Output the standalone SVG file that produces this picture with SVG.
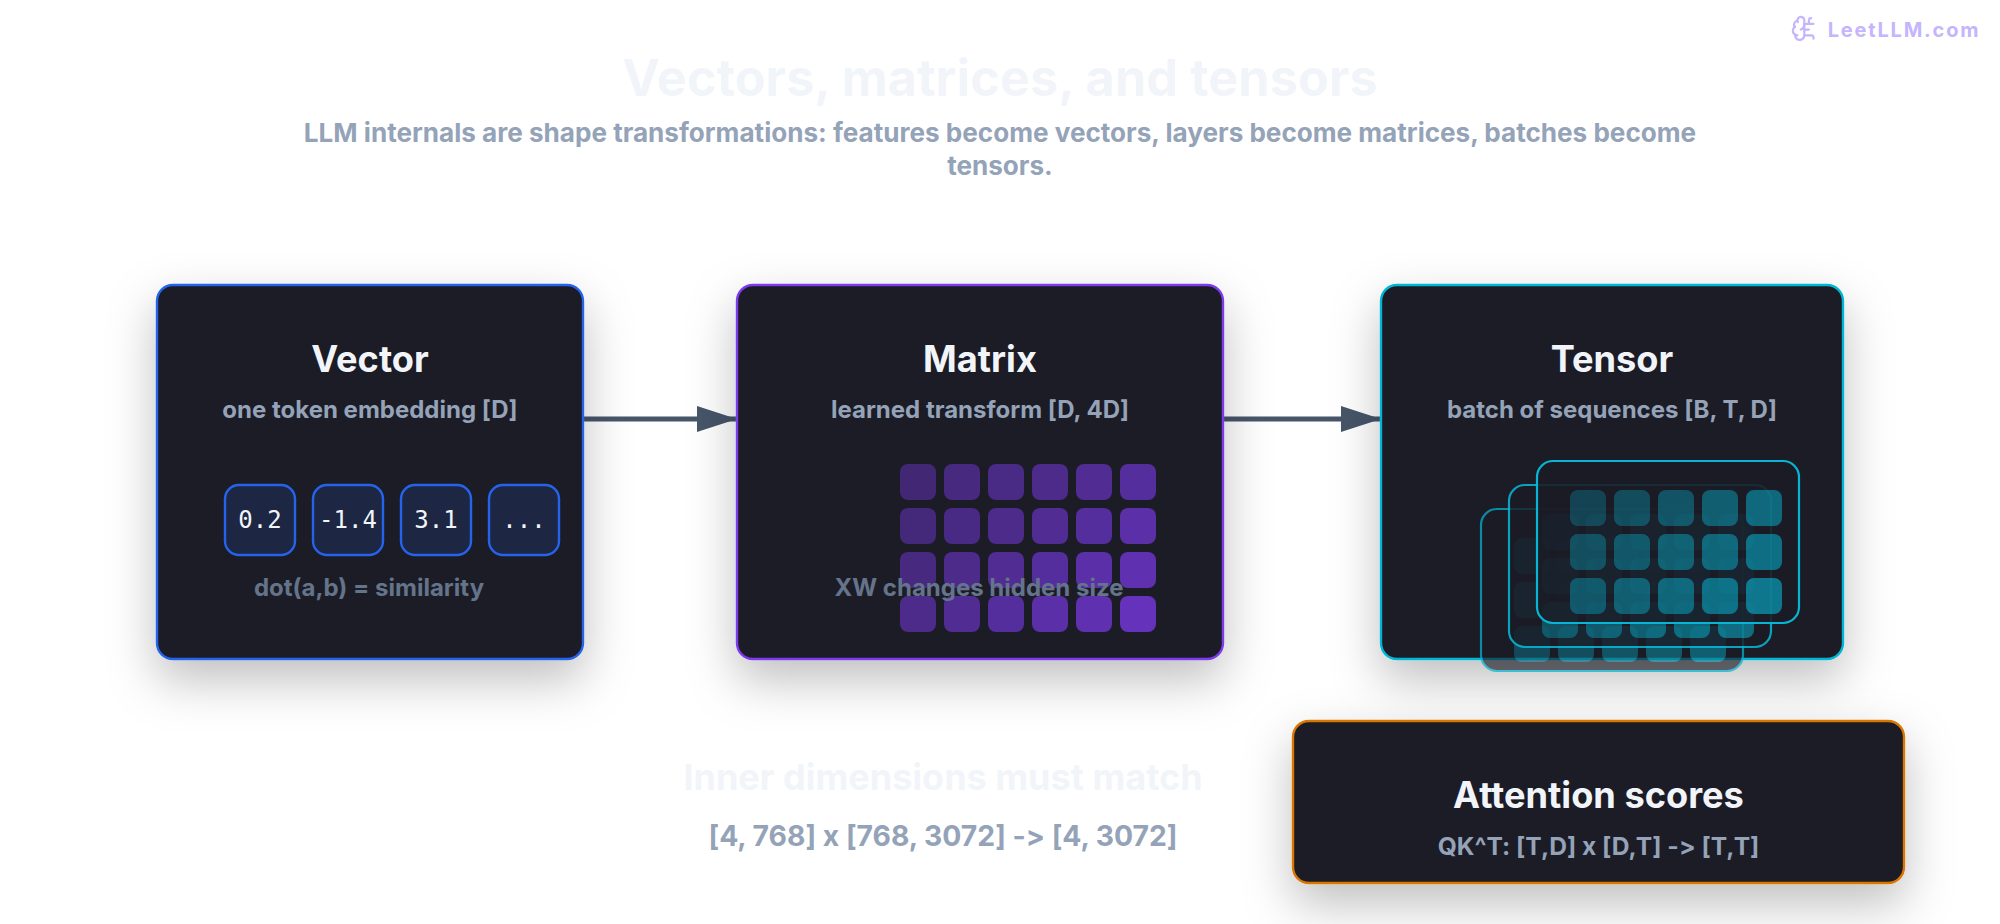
<svg xmlns="http://www.w3.org/2000/svg" width="2000" height="924" viewBox="0 0 2000 924">
<defs>
<filter id="shadow" x="-30%" y="-30%" width="160%" height="190%"><feDropShadow dx="0" dy="20" stdDeviation="24" flood-color="#000" flood-opacity="0.25"/></filter>
<marker id="arrow" markerUnits="userSpaceOnUse" markerWidth="40" markerHeight="26" refX="40" refY="13" orient="auto"><path d="M0 0L40 13L0 26Z" fill="#475569"/></marker>
</defs>
<style>
text{font-family:Inter,"Noto Sans","Liberation Sans",sans-serif;text-anchor:middle;font-feature-settings:"calt" 0,"liga" 0}
.card{fill:#1a1b26;stroke-width:2.4;filter:url(#shadow)}
.h{font-size:36.2px;font-weight:700;fill:#f1f5f9}
.sub{font-size:24px;font-weight:700;fill:#94a3b8}
.note{font-size:24px;font-weight:700;fill:#64748b}
.cell{fill:#2563eb;fill-opacity:.15}
.vbox{stroke:#2563eb;stroke-width:2.4}
.mono{font-family:"DejaVu Sans Mono","Liberation Mono",monospace;font-size:24px;fill:#f1f5f9}
.conn{stroke:#475569;stroke-width:5;fill:none;marker-end:url(#arrow)}
.m{fill:#7c3aed}
.t{fill:#06b6d4}
.layer{fill:#1a1b26;fill-opacity:.88;stroke:#06b6d4;stroke-width:2.2}
.logo{fill:none;stroke:#c4b5fd;stroke-width:1.9;stroke-linecap:round;stroke-linejoin:round}
</style>
<rect width="2000" height="924" fill="#fff"/>
<g id="logo"><g class="logo" transform="translate(1790.5,14.6) scale(1.15)"><path d="M12 5a3 3 0 1 0-5.997.125 4 4 0 0 0-2.526 5.77 4 4 0 0 0 .556 6.588A4 4 0 1 0 12 18Z"/><path d="M9 13a4.5 4.5 0 0 0 3-4"/><path d="M6.003 5.125A3 3 0 0 0 6.401 6.5"/><path d="M3.477 10.896a4 4 0 0 1 .585-.396"/><path d="M6 18a4 4 0 0 1-1.967-.516"/><path d="M12 13h4"/><path d="M12 18h6a2 2 0 0 1 2 2v1"/><path d="M12 8h8"/><path d="M16 8V5a2 2 0 0 1 2-2"/></g>
<text x="1904" y="37" style="font-size:20px;font-weight:700;letter-spacing:1.8px;fill:#c4b5fd">LeetLLM.com</text></g>
<g id="title"><text x="1000" y="96" style="font-size:50.5px;font-weight:700;fill:#f1f5f9">Vectors, matrices, and tensors</text>
<text x="1000" y="142" style="font-size:26.1px;font-weight:700;fill:#94a3b8">LLM internals are shape transformations: features become vectors, layers become matrices, batches become</text>
<text x="1000" y="175" style="font-size:26.1px;font-weight:700;fill:#94a3b8">tensors.</text></g>
<g id="connectors"><path class="conn" d="M583 419H737"/><path class="conn" d="M1223 419H1381"/></g>
<g id="vector"><rect class="card" x="157" y="285" width="426" height="374" rx="16" stroke="#2563eb"/>
<text class="h" x="370" y="372">Vector</text><text class="sub" x="370" y="418">one token embedding [D]</text>
<g class="vbox"><rect class="cell" x="225" y="485" width="70" height="70" rx="14"/><rect class="cell" x="313" y="485" width="70" height="70" rx="14"/><rect class="cell" x="401" y="485" width="70" height="70" rx="14"/><rect class="cell" x="489" y="485" width="70" height="70" rx="14"/></g>
<text class="mono" x="260" y="528">0.2</text><text class="mono" x="348" y="528">-1.4</text><text class="mono" x="436" y="528">3.1</text><text class="mono" x="524" y="528">...</text>
<text class="note" x="369" y="596">dot(a,b) = similarity</text></g>
<g id="matrix"><rect class="card" x="737" y="285" width="486" height="374" rx="16" stroke="#7c3aed"/>
<text class="h" x="980" y="372">Matrix</text><text class="sub" x="980" y="418">learned transform [D, 4D]</text>
<g class="m">
<rect x="900" y="464" width="36" height="36" rx="8" opacity=".4"/><rect x="944" y="464" width="36" height="36" rx="8" opacity=".45"/><rect x="988" y="464" width="36" height="36" rx="8" opacity=".48"/><rect x="1032" y="464" width="36" height="36" rx="8" opacity=".5"/><rect x="1076" y="464" width="36" height="36" rx="8" opacity=".55"/><rect x="1120" y="464" width="36" height="36" rx="8" opacity=".6"/>
<rect x="900" y="508" width="36" height="36" rx="8" opacity=".42"/><rect x="944" y="508" width="36" height="36" rx="8" opacity=".47"/><rect x="988" y="508" width="36" height="36" rx="8" opacity=".5"/><rect x="1032" y="508" width="36" height="36" rx="8" opacity=".55"/><rect x="1076" y="508" width="36" height="36" rx="8" opacity=".6"/><rect x="1120" y="508" width="36" height="36" rx="8" opacity=".65"/>
<rect x="900" y="552" width="36" height="36" rx="8" opacity=".45"/><rect x="944" y="552" width="36" height="36" rx="8" opacity=".5"/><rect x="988" y="552" width="36" height="36" rx="8" opacity=".55"/><rect x="1032" y="552" width="36" height="36" rx="8" opacity=".6"/><rect x="1076" y="552" width="36" height="36" rx="8" opacity=".65"/><rect x="1120" y="552" width="36" height="36" rx="8" opacity=".7"/>
<rect x="900" y="596" width="36" height="36" rx="8" opacity=".5"/><rect x="944" y="596" width="36" height="36" rx="8" opacity=".55"/><rect x="988" y="596" width="36" height="36" rx="8" opacity=".6"/><rect x="1032" y="596" width="36" height="36" rx="8" opacity=".65"/><rect x="1076" y="596" width="36" height="36" rx="8" opacity=".7"/><rect x="1120" y="596" width="36" height="36" rx="8" opacity=".75"/>
</g>
<text class="note" x="979" y="596">XW changes hidden size</text></g>
<g id="tensor"><rect class="card" x="1381" y="285" width="462" height="374" rx="16" stroke="#06b6d4"/>
<text class="h" x="1612" y="372">Tensor</text><text class="sub" x="1612" y="418">batch of sequences [B, T, D]</text>
<g id="layer-back" opacity=".73"><rect class="layer" x="1481" y="509" width="262" height="162" rx="16"/><g class="t">
<rect x="1514" y="538" width="36" height="36" rx="8" opacity=".3"/><rect x="1558" y="538" width="36" height="36" rx="8" opacity=".35"/><rect x="1602" y="538" width="36" height="36" rx="8" opacity=".4"/><rect x="1646" y="538" width="36" height="36" rx="8" opacity=".45"/><rect x="1690" y="538" width="36" height="36" rx="8" opacity=".5"/>
<rect x="1514" y="582" width="36" height="36" rx="8" opacity=".35"/><rect x="1558" y="582" width="36" height="36" rx="8" opacity=".4"/><rect x="1602" y="582" width="36" height="36" rx="8" opacity=".45"/><rect x="1646" y="582" width="36" height="36" rx="8" opacity=".5"/><rect x="1690" y="582" width="36" height="36" rx="8" opacity=".55"/>
<rect x="1514" y="626" width="36" height="36" rx="8" opacity=".4"/><rect x="1558" y="626" width="36" height="36" rx="8" opacity=".45"/><rect x="1602" y="626" width="36" height="36" rx="8" opacity=".5"/><rect x="1646" y="626" width="36" height="36" rx="8" opacity=".55"/><rect x="1690" y="626" width="36" height="36" rx="8" opacity=".6"/></g></g>
<g id="layer-mid" opacity=".88"><rect class="layer" x="1509" y="485" width="262" height="162" rx="16"/><g class="t">
<rect x="1542" y="514" width="36" height="36" rx="8" opacity=".3"/><rect x="1586" y="514" width="36" height="36" rx="8" opacity=".35"/><rect x="1630" y="514" width="36" height="36" rx="8" opacity=".4"/><rect x="1674" y="514" width="36" height="36" rx="8" opacity=".45"/><rect x="1718" y="514" width="36" height="36" rx="8" opacity=".5"/>
<rect x="1542" y="558" width="36" height="36" rx="8" opacity=".35"/><rect x="1586" y="558" width="36" height="36" rx="8" opacity=".4"/><rect x="1630" y="558" width="36" height="36" rx="8" opacity=".45"/><rect x="1674" y="558" width="36" height="36" rx="8" opacity=".5"/><rect x="1718" y="558" width="36" height="36" rx="8" opacity=".55"/>
<rect x="1542" y="602" width="36" height="36" rx="8" opacity=".4"/><rect x="1586" y="602" width="36" height="36" rx="8" opacity=".45"/><rect x="1630" y="602" width="36" height="36" rx="8" opacity=".5"/><rect x="1674" y="602" width="36" height="36" rx="8" opacity=".55"/><rect x="1718" y="602" width="36" height="36" rx="8" opacity=".6"/></g></g>
<g id="layer-front"><rect class="layer" x="1537" y="461" width="262" height="162" rx="16"/><g class="t">
<rect x="1570" y="490" width="36" height="36" rx="8" opacity=".27"/><rect x="1614" y="490" width="36" height="36" rx="8" opacity=".32"/><rect x="1658" y="490" width="36" height="36" rx="8" opacity=".37"/><rect x="1702" y="490" width="36" height="36" rx="8" opacity=".43"/><rect x="1746" y="490" width="36" height="36" rx="8" opacity=".5"/>
<rect x="1570" y="534" width="36" height="36" rx="8" opacity=".33"/><rect x="1614" y="534" width="36" height="36" rx="8" opacity=".38"/><rect x="1658" y="534" width="36" height="36" rx="8" opacity=".43"/><rect x="1702" y="534" width="36" height="36" rx="8" opacity=".48"/><rect x="1746" y="534" width="36" height="36" rx="8" opacity=".54"/>
<rect x="1570" y="578" width="36" height="36" rx="8" opacity=".38"/><rect x="1614" y="578" width="36" height="36" rx="8" opacity=".43"/><rect x="1658" y="578" width="36" height="36" rx="8" opacity=".48"/><rect x="1702" y="578" width="36" height="36" rx="8" opacity=".54"/><rect x="1746" y="578" width="36" height="36" rx="8" opacity=".6"/></g></g></g>
<g id="attention"><rect class="card" x="1293" y="721" width="611" height="162" rx="16" stroke="#d97706"/>
<text class="h" x="1598.5" y="808">Attention scores</text><text class="sub" x="1598.5" y="855" style="font-size:24.6px">QK^T: [T,D] x [D,T] -&gt; [T,T]</text></g>
<g id="inner"><text x="943" y="790" style="font-size:36px;font-weight:700;fill:#f1f5f9">Inner dimensions must match</text>
<text x="943" y="846" style="font-size:28.3px;font-weight:700;fill:#94a3b8">[4, 768] x [768, 3072] -&gt; [4, 3072]</text></g>
</svg>
